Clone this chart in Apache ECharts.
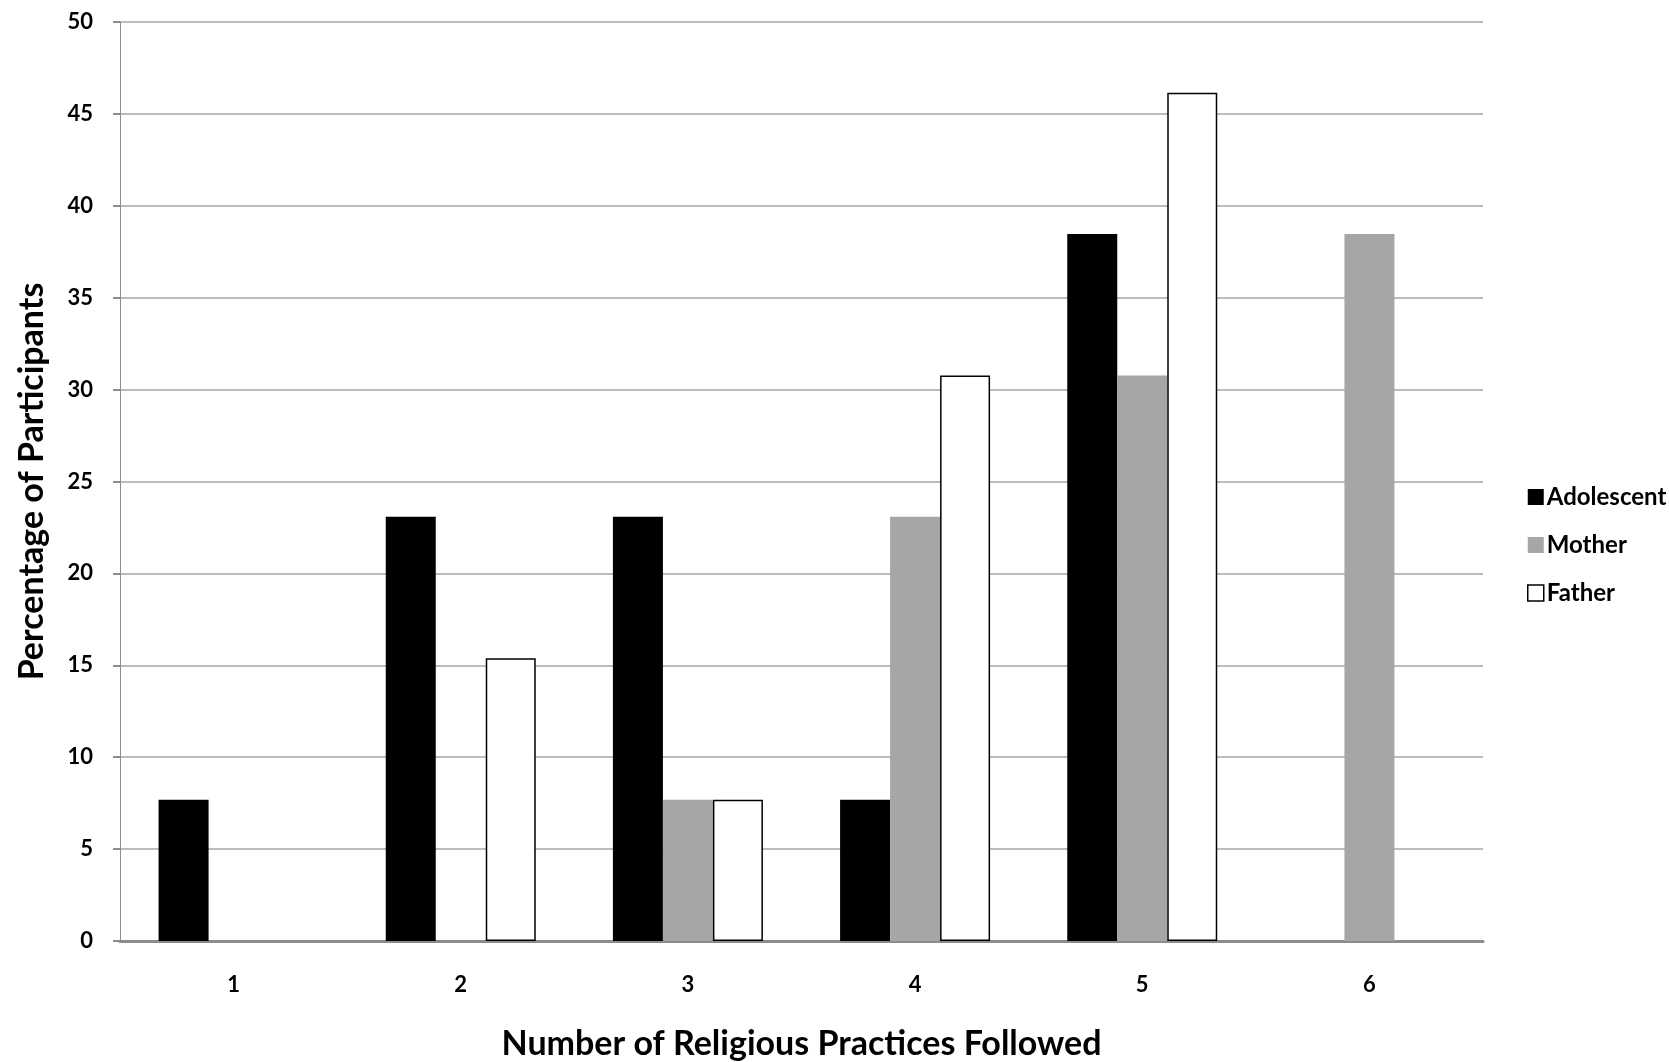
<!DOCTYPE html>
<html><head><meta charset="utf-8">
<script src="https://cdn.jsdelivr.net/npm/echarts@6/dist/echarts.min.js"></script>
<style>html,body{margin:0;padding:0;background:#fff}#c{width:1669px;height:1062px}</style>
</head><body><div id="c"></div>
<script>
const categories = ['1','2','3','4','5','6'];
const adolescent = [7.69, 23.08, 23.08, 7.69, 38.46, 0];
const mother = [0, 0, 7.69, 23.08, 30.77, 38.46];
const father = [0, 15.38, 7.69, 30.77, 46.15, 0];
const yTicks = {min: 0, max: 50, interval: 5};

// zero-height bars get no outline
const noZeroBorder = arr => arr.map(v => v === 0 ? {value: 0, itemStyle: {borderWidth: 0}} : v);

const chart = echarts.init(document.getElementById('c'));
const font = 'Lato, "Open Sans", sans-serif';
chart.setOption({
  animation: false,
  backgroundColor: '#fff',
  grid: {left: 120, right: 186, top: 22, bottom: 121, outerBoundsMode: 'none'},
  legend: {
    orient: 'vertical', left: 1522, top: 480, itemGap: 24,
    itemWidth: 16, itemHeight: 16,
    textStyle: {fontFamily: font, fontWeight: 'bold', fontSize: 24, color: '#000', padding: [0,0,0,-2]},
    data: [
      {name: 'Adolescent', icon: 'rect', itemStyle: {color: '#000'}},
      {name: 'Mother', icon: 'rect', itemStyle: {color: '#a6a6a6'}},
      {name: 'Father', icon: 'rect', itemStyle: {color: '#fff', borderColor: '#000', borderWidth: 1.5}}
    ]
  },
  xAxis: {
    type: 'category', data: categories,
    name: 'Number of Religious Practices Followed', nameLocation: 'middle', nameGap: 86,
    nameTextStyle: {fontFamily: font, fontWeight: 'bold', fontSize: 34, color: '#000'},
    axisLine: {lineStyle: {color: '#8c8c8c', width: 3}},
    axisTick: {show: false},
    axisLabel: {fontFamily: font, fontWeight: 'bold', fontSize: 22, color: '#000', margin: 33}
  },
  yAxis: {
    type: 'value', min: yTicks.min, max: yTicks.max, interval: yTicks.interval,
    name: 'Percentage of Participants', nameLocation: 'middle', nameGap: 71,
    nameTextStyle: {fontFamily: font, fontWeight: 'bold', fontSize: 34, color: '#000'},
    axisLine: {show: true, lineStyle: {color: '#8c8c8c', width: 1}},
    axisTick: {show: true, length: 7, lineStyle: {color: '#8c8c8c', width: 2}},
    splitLine: {lineStyle: {color: '#a6a6a6', width: 1.5}},
    axisLabel: {fontFamily: font, fontWeight: 'bold', fontSize: 22, color: '#000', margin: 27}
  },
  series: [
    {name: 'Adolescent', type: 'bar', data: adolescent, barWidth: 50, barGap: '0%',
     itemStyle: {color: '#000'}},
    {name: 'Mother', type: 'bar', data: mother, barWidth: 50, barGap: '0%',
     itemStyle: {color: '#a6a6a6'}},
    {name: 'Father', type: 'bar', data: noZeroBorder(father), barWidth: 50, barGap: '0%',
     itemStyle: {color: '#fff', borderColor: '#000', borderWidth: 1.5}}
  ]
});
</script></body></html>
